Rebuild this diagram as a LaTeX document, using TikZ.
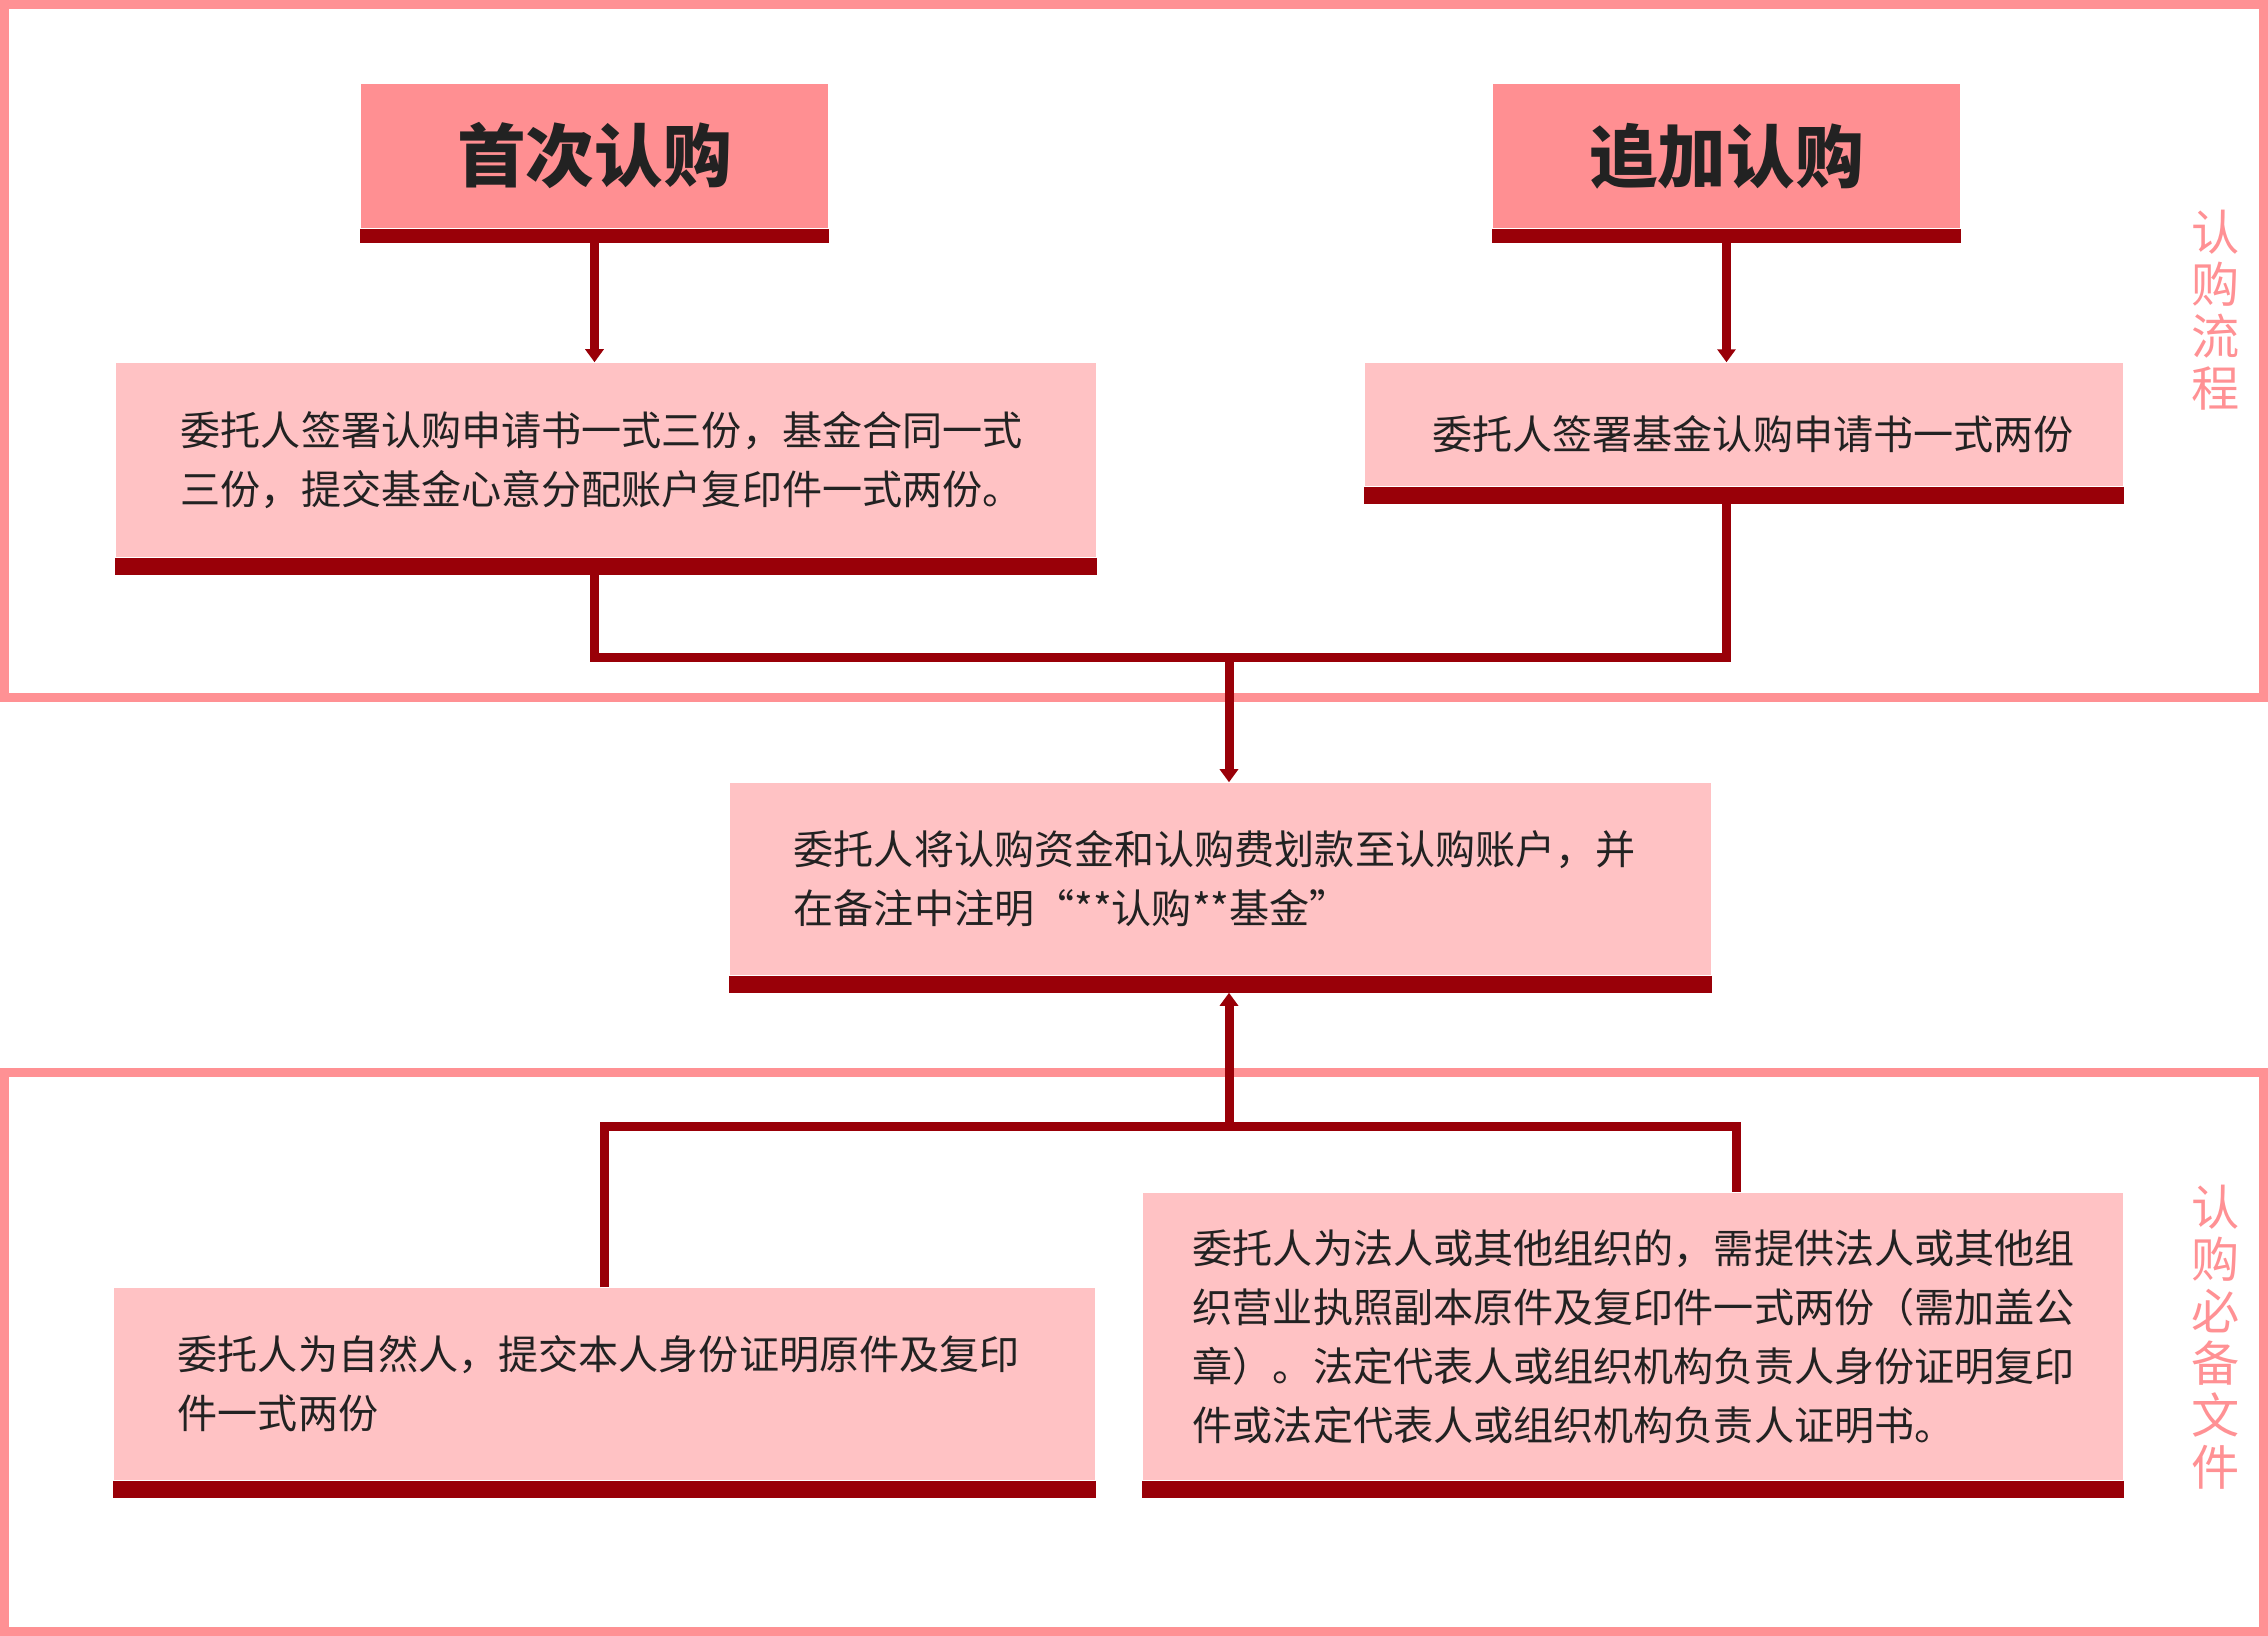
\documentclass[tikz,border=0pt]{standalone}
\usepackage{fontspec}
\setmainfont{Noto Sans CJK SC}
\usetikzlibrary{
	arrows.meta,
	positioning
}
\definecolor{kuangfen}{RGB}{255,145,148}
\definecolor{toufen}{RGB}{255,143,146}
\definecolor{kafen}{RGB}{255,194,196}
\definecolor{shenhong}{RGB}{153,0,8}
\definecolor{mo}{RGB}{34,34,34}

\begin{document}
\begin{tikzpicture}[
			x=0.01cm, y=-0.01cm,
			font=\fontsize{11.4pt}{16.8pt}\selectfont,
			kuang/.style={draw=kuangfen, line width=0.09cm},
			biaoti/.style={
					fill=toufen,
					inner sep=0pt,
					minimum width=4.67cm,
					minimum height=1.44cm,
					text=mo,
					font=\fontsize{19.5pt}{22pt}\selectfont\bfseries
				},
			kapian/.style={fill=kafen, inner sep=0pt, text=mo, align=left},
			cebiao/.style={text=kuangfen, align=center, font=\fontsize{13.7pt}{14.8pt}\selectfont},
			lianxian/.style={draw=shenhong, line width=0.09cm},
			jiantou/.style={lianxian, -{Triangle[width=0.18cm,length=0.13cm]}}
		]
		\useasboundingbox (0,0) rectangle (2268,1636);
		\draw[kuang] (4.5,4.5) rectangle (2263.5,697.5);
		\draw[kuang] (4.5,1072.5) rectangle (2263.5,1631.5);

		\node[biaoti] (h1) at (594.5,156) {首次认购};
		\node[biaoti] (h2) at (1726.5,156) {追加认购};
		\node[kapian, minimum width=9.8cm, minimum height=1.94cm, text width=8.5cm, inner xsep=0.65cm] (b1) at (606,460)
		{委托人签署认购申请书一式三份，基金合同一式\\三份，提交基金心意分配账户复印件一式两份。};
		\node[kapian, align=center, minimum width=7.58cm, minimum height=1.23cm, text height=0.55cm, text depth=0.05cm] (b2) at (1744,424.5)
		{\hspace{0.18cm}委托人签署基金认购申请书一式两份};
		\node[kapian, minimum width=9.81cm, minimum height=1.92cm, text width=8.53cm, inner xsep=0.64cm] (b3) at (1220.5,879)
		{委托人将认购资金和认购费划款至认购账户，并\\在备注中注明“**认购**基金”};
		\node[kapian, minimum width=9.81cm, minimum height=1.92cm, text width=8.53cm, inner xsep=0.64cm] (b4) at (604.5,1384)
		{委托人为自然人，提交本人身份证明原件及复印\\件一式两份};
		\node[kapian, minimum width=9.8cm, minimum height=2.87cm, text width=8.8cm, inner xsep=0.5cm] (b5) at (1633,1336.5)
		{委托人为法人或其他组织的，需提供法人或其他组\\织营业执照副本原件及复印件一式两份（需加盖公\\章）。法定代表人或组织机构负责人身份证明复印\\件或法定代表人或组织机构负责人证明书。};

		% dark strips under the boxes
		\foreach \n/\d in {h1/0.14,h2/0.14,b1/0.17,b2/0.17,b3/0.17,b4/0.17,b5/0.17}{
				\fill[shenhong] (\n.south west) rectangle ([yshift=-\d cm]\n.south east);
				\coordinate (\n-b) at ([yshift=-\d cm]\n.south);
			}

		\node[cebiao] (s1) at (2216,310) {认\\购\\流\\程};
		\node[cebiao] (s2) at (2216,1337) {认\\购\\必\\备\\文\\件};

		\coordinate (hui) at (1229,657);
		\coordinate (fen) at (1229,1126);
		\draw[jiantou] (h1-b) -- (h1-b |- b1.north);
		\draw[jiantou] (h2-b) -- (h2-b |- b2.north);
		\draw[lianxian] (h1-b |- b1-b) |- (hui) -| (h2-b |- b2-b);
		\draw[jiantou] (hui) -- (hui |- b3.north);
		\draw[jiantou] (fen) -- (fen |- b3-b);
		\draw[lianxian] (b4.north) |- (fen) -| ([xshift=1.03cm]b5.north);
	\end{tikzpicture}
\end{document}
